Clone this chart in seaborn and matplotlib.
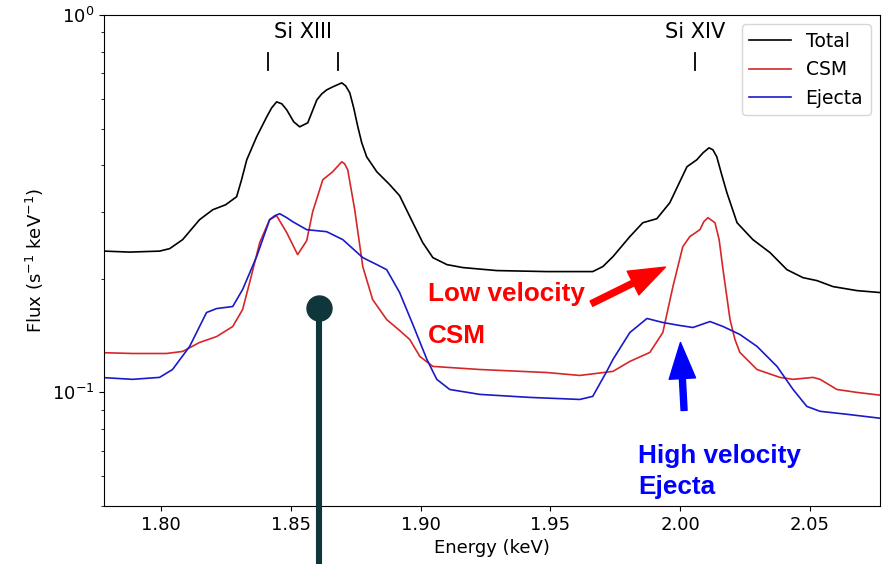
import numpy as np
import pandas as pd
import matplotlib.pyplot as plt
from matplotlib.lines import Line2D
from matplotlib.patches import FancyArrowPatch
from matplotlib.ticker import NullFormatter
import seaborn as sns

# spectra (energy in keV, flux in s^-1 keV^-1)
total_e = [1.7782, 1.7879, 1.7994, 1.8033, 1.8083, 1.8148, 1.8199, 1.8249, 1.8291, 1.8310,
           1.8330, 1.8368, 1.8407, 1.8426, 1.8445, 1.8465, 1.8484, 1.8511, 1.8534, 1.8565,
           1.8600, 1.8619, 1.8638, 1.8661, 1.8696, 1.8711, 1.8727, 1.8742, 1.8758, 1.8773,
           1.8792, 1.8831, 1.8881, 1.8919, 1.8970, 1.9008, 1.9047, 1.9101, 1.9162, 1.9293,
           1.9486, 1.9663, 1.9702, 1.9741, 1.9806, 1.9856, 1.9910, 1.9960, 2.0026, 2.0064,
           2.0088, 2.0111, 2.0126, 2.0141, 2.0160, 2.0180, 2.0219, 2.0280, 2.0346, 2.0411,
           2.0473, 2.0527, 2.0589, 2.0681, 2.0770]
total_f = [0.2368, 0.2354, 0.2368, 0.2404, 0.2540, 0.2868, 0.3048, 0.3143, 0.3300, 0.3660,
           0.4134, 0.4756, 0.5373, 0.5676, 0.5886, 0.5817, 0.5608, 0.5211, 0.5055, 0.5180,
           0.5958, 0.6180, 0.6333, 0.6449, 0.6609, 0.6490, 0.6219, 0.5676, 0.5055, 0.4586,
           0.4210, 0.3843, 0.3551, 0.3320, 0.2816, 0.2494, 0.2276, 0.2181, 0.2142, 0.2103,
           0.2090, 0.2090, 0.2155, 0.2290, 0.2587, 0.2816, 0.2886, 0.3181, 0.3962, 0.4134,
           0.4314, 0.4447, 0.4394, 0.4210, 0.3773, 0.3381, 0.2816, 0.2540, 0.2347, 0.2115,
           0.2014, 0.1978, 0.1907, 0.1861, 0.1839]

csm_e = [1.7782, 1.7890, 1.8021, 1.8083, 1.8148, 1.8214, 1.8276, 1.8314, 1.8341, 1.8380,
         1.8418, 1.8445, 1.8484, 1.8526, 1.8561, 1.8584, 1.8623, 1.8661, 1.8696, 1.8707,
         1.8719, 1.8746, 1.8765, 1.8777, 1.8815, 1.8869, 1.8919, 1.8958, 1.8997, 1.9047,
         1.9112, 1.9228, 1.9486, 1.9613, 1.9741, 1.9806, 1.9883, 1.9933, 1.9972, 2.0010,
         2.0037, 2.0076, 2.0091, 2.0107, 2.0134, 2.0150, 2.0165, 2.0192, 2.0211, 2.0230,
         2.0296, 2.0384, 2.0435, 2.0512, 2.0539, 2.0604, 2.0681, 2.0778]
csm_f = [0.1274, 0.1268, 0.1268, 0.1284, 0.1356, 0.1406, 0.1495, 0.1658, 0.1954, 0.2494,
         0.2868, 0.2939, 0.2650, 0.2318, 0.2524, 0.3011, 0.3660, 0.3843, 0.4084, 0.4035,
         0.3890, 0.3048, 0.2463, 0.2155, 0.1762, 0.1560, 0.1459, 0.1381, 0.1245, 0.1172,
         0.1164, 0.1150, 0.1129, 0.1109, 0.1137, 0.1208, 0.1276, 0.1441, 0.1907, 0.2433,
         0.2587, 0.2699, 0.2834, 0.2904, 0.2816, 0.2540, 0.2115, 0.1560, 0.1381, 0.1276,
         0.1150, 0.1096, 0.1083, 0.1096, 0.1083, 0.1018, 0.1000, 0.0982]

ejecta_e = [1.7782, 1.7890, 1.7994, 1.8044, 1.8110, 1.8175, 1.8214, 1.8276, 1.8314, 1.8368,
            1.8418, 1.8438, 1.8457, 1.8484, 1.8507, 1.8561, 1.8638, 1.8700, 1.8777, 1.8831,
            1.8869, 1.8919, 1.8970, 1.9024, 1.9062, 1.9112, 1.9228, 1.9421, 1.9613, 1.9663,
            1.9717, 1.9741, 1.9806, 1.9872, 1.9933, 1.9999, 2.0049, 2.0115, 2.0165, 2.0230,
            2.0296, 2.0373, 2.0435, 2.0488, 2.0539, 2.0643, 2.0778]
ejecta_f = [0.1094, 0.1083, 0.1096, 0.1150, 0.1324, 0.1628, 0.1668, 0.1689, 0.1873, 0.2290,
            0.2868, 0.2939, 0.2975, 0.2904, 0.2834, 0.2699, 0.2666, 0.2540, 0.2276, 0.2181,
            0.2115, 0.1839, 0.1513, 0.1223, 0.1083, 0.1018, 0.0988, 0.0970, 0.0958, 0.0976,
            0.1137, 0.1223, 0.1441, 0.1570, 0.1532, 0.1504, 0.1486, 0.1541, 0.1495, 0.1424,
            0.1324, 0.1172, 0.1018, 0.0918, 0.0891, 0.0875, 0.0853]

series_names = ['Total', 'CSM', 'Ejecta']
series_colors = ['black', '#d62728', '#1a1ac8']

# line identifications
si13_lines = [1.8412, 1.8682]
si14_lines = [2.0057]

df = pd.concat([
    pd.DataFrame({'energy': total_e, 'flux': total_f, 'component': 'Total'}),
    pd.DataFrame({'energy': csm_e, 'flux': csm_f, 'component': 'CSM'}),
    pd.DataFrame({'energy': ejecta_e, 'flux': ejecta_f, 'component': 'Ejecta'}),
], ignore_index=True)

plt.rcParams['font.size'] = 13
fig = plt.figure(figsize=(8.92, 5.64), dpi=100)
ax = fig.add_axes([0.1166, 0.1028, 0.870, 0.8706])

sns.lineplot(data=df, x='energy', y='flux', hue='component', hue_order=series_names,
             palette=dict(zip(series_names, series_colors)), estimator=None, sort=False,
             linewidth=1.2, ax=ax)

ax.set_yscale('log')
ax.set_xlim(1.778, 2.077)
ax.set_ylim(0.05, 1.0)
ax.yaxis.set_minor_formatter(NullFormatter())
ax.set_xlabel('Energy (keV)', fontsize=13)
ax.set_ylabel('Flux (s$^{-1}$ keV$^{-1}$)', fontsize=13)
ax.tick_params(labelsize=13)

ax.legend(loc='upper right', fontsize=13.5, handlelength=2.2)

# Si line markers
for e in si13_lines + si14_lines:
    ax.plot([e, e], [0.715, 0.793], color='black', lw=1.3)
ax.text(np.mean(si13_lines), 0.90, 'Si XIII', ha='center', va='center', fontsize=15)
ax.text(si14_lines[0], 0.90, 'Si XIV', ha='center', va='center', fontsize=15)

# callouts
bold = dict(family=['Liberation Sans', 'DejaVu Sans'], fontweight='bold', fontsize=18.8)
ax.text(1.9027, 0.1743, 'Low velocity', color='#ff0000', ha='left', va='baseline', **bold)
ax.text(1.9027, 0.1348, 'CSM', color='#ff0000', ha='left', va='baseline', **bold)
ax.text(1.9837, 0.0652, 'High velocity', color='#0000ff', ha='left', va='baseline',
        clip_on=False, **bold)
ax.text(1.9837, 0.0537, 'Ejecta', color='#0000ff', ha='left', va='baseline',
        clip_on=False, **bold)

arrow_style = 'simple,head_length=26,head_width=19,tail_width=4.3'
ax.add_patch(FancyArrowPatch((1.9658, 0.1719), (1.9943, 0.2148), arrowstyle=arrow_style,
                             mutation_scale=1, color='#ff0000', shrinkA=0, shrinkB=0))
ax.add_patch(FancyArrowPatch((2.0015, 0.0896), (2.0001, 0.1356), arrowstyle=arrow_style,
                             mutation_scale=1, color='#0000ff', shrinkA=0, shrinkB=0))

# pin marker overlay
pin_x = 319 / 892
pin_top = 1 - 308.3 / 564
fig.add_artist(Line2D([pin_x, pin_x], [0, pin_top], transform=fig.transFigure,
                      color='#0f363b', lw=4.4, zorder=10))
fig.add_artist(Line2D([pin_x], [pin_top], transform=fig.transFigure, marker='o',
                      markersize=18, color='#0f363b', zorder=11))

fig.savefig('out.png', dpi=100)
